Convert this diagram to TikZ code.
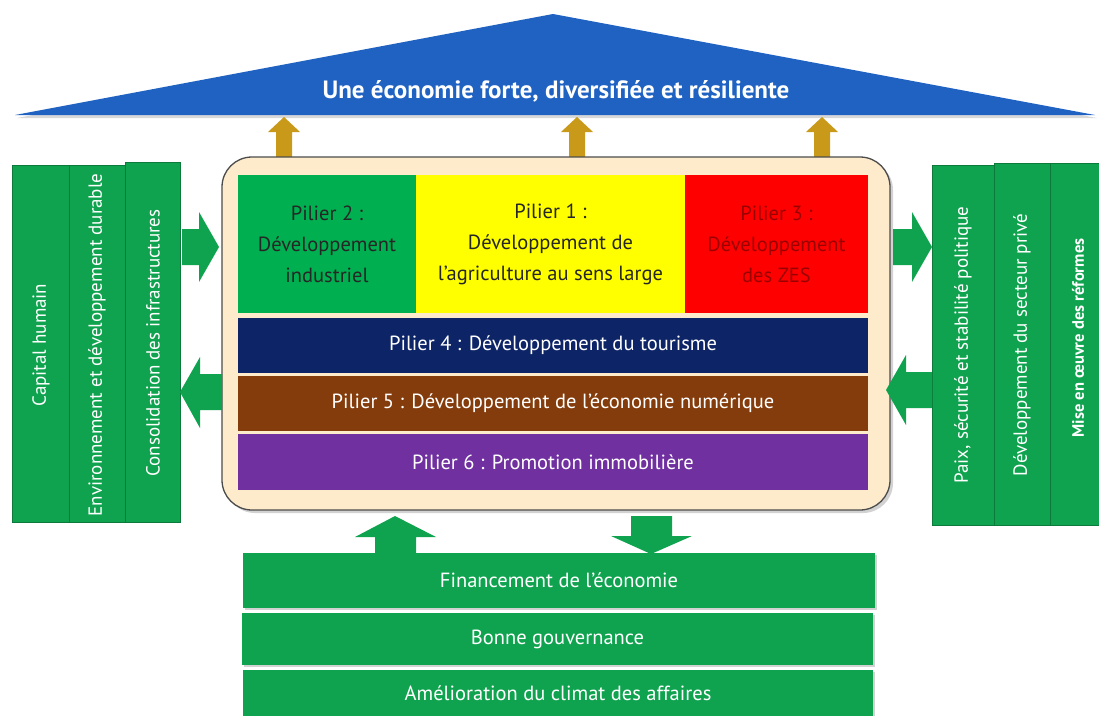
\documentclass[tikz,border=0pt]{standalone}
\usepackage{fontspec}
\setmainfont{PT Sans}
\usetikzlibrary{shadows}
\definecolor{grn}{HTML}{10A34F}
\definecolor{grnline}{HTML}{0B7A3A}
\definecolor{pgreen}{HTML}{00B050}
\definecolor{roofblue}{HTML}{1F62C2}
\definecolor{gold}{HTML}{C99A1A}
\definecolor{cream}{HTML}{FDEBCB}
\definecolor{navy}{HTML}{0D2466}
\definecolor{brownp}{HTML}{843C0C}
\definecolor{purp}{HTML}{7030A0}
\definecolor{darkred}{HTML}{9A0000}
\definecolor{yel}{HTML}{FFFF00}
\definecolor{redp}{HTML}{FF0000}
\tikzset{
  box/.style={inner sep=0pt, outer sep=0pt, align=center, anchor=north west},
  pil/.style={box, font=\fontsize{20.5}{31}\selectfont},
  band/.style={box, text=white, font=\fontsize{20.5}{24}\selectfont},
  colbox/.style={fill=grn, draw=grnline, line width=0.8pt},
  coltext/.style={text=white, rotate=90, font=\fontsize{19}{22}\selectfont},
  barbox/.style={box, fill=grn, text=white, font=\fontsize{20.5}{24}\selectfont,
    drop shadow={shadow xshift=2pt, shadow yshift=-2pt, opacity=.35}},
  garrow/.style={fill=grn},
  goldarrow/.style={fill=gold}
}
\begin{document}
\begin{tikzpicture}[x=1pt,y=-1pt]
\useasboundingbox (0,0) rectangle (1099,715);
\fill[white] (0,0) rectangle (1099,715);

% roof
\fill[roofblue, drop shadow={shadow xshift=2pt, shadow yshift=-3pt, opacity=.3}]
  (15,115) -- (553,14) -- (1095,115) -- cycle;
\node[text=white, font=\bfseries\fontsize{25}{28}\selectfont] (rooftxt) at (556,91)
  {Une économie forte, diversifiée et résiliente};

% gold arrows
\foreach \x in {284,577,822}{
  \fill[goldarrow] (\x-8,157) -- (\x-8,132) -- (\x-16,132) -- (\x,117)
    -- (\x+16,132) -- (\x+8,132) -- (\x+8,157) -- cycle;
}

% main frame
\draw[rounded corners=30pt, fill=cream, draw=gray!60!black, line width=1.3pt,
  drop shadow={shadow xshift=3pt, shadow yshift=-3pt, opacity=.35}]
  (222,157) rectangle (890,510);

% pillars
\node[pil, fill=pgreen, text=black!85, minimum width=178pt, minimum height=138pt] (p2) at (238,175)
  {Pilier 2 :\\Développement\\industriel};
\node[pil, fill=yel, text=black!85, minimum width=269pt, minimum height=138pt] (p1) at (416,175)
  {Pilier 1 :\\Développement de\\l'agriculture au sens large};
\node[pil, fill=redp, text=darkred, minimum width=183pt, minimum height=138pt] (p3) at (685,175)
  {Pilier 3 :\\Développement\\des ZES};
\node[band, fill=navy, minimum width=630pt, minimum height=55pt] (p4) at (238,318)
  {Pilier 4 : Développement du tourisme};
\node[band, fill=brownp, minimum width=630pt, minimum height=55pt] (p5) at (238,376)
  {Pilier 5 : Développement de l'économie numérique};
\node[band, fill=purp, minimum width=630pt, minimum height=56pt] (p6) at (238,434)
  {Pilier 6 : Promotion immobilière};

% left columns
\draw[colbox] (12,165) rectangle (69,522);
\draw[colbox] (69,165) rectangle (125,522);
\draw[colbox] (125,162) rectangle (180,522);
\node[coltext] (c1) at (41,345) {Capital humain};
\node[coltext] (c2) at (97,345) {Environnement et développement durable};
\node[coltext] (c3) at (153,343) {Consolidation des infrastructures};

% right columns
\draw[colbox] (932,165) rectangle (994,525);
\draw[colbox] (994,163) rectangle (1050,525);
\draw[colbox] (1050,163) rectangle (1099,525);
\node[coltext] (r1) at (963,345) {Paix, sécurité et stabilité politique};
\node[coltext] (r2) at (1022,345) {Développement du secteur privé};
\node[coltext, font=\bfseries\fontsize{16.5}{19}\selectfont] (r3) at (1078,338) {Mise en œuvre des réformes};

% side arrows (left)
\fill[garrow] (182,229) -- (199,229) -- (199,212) -- (219,247) -- (199,282) -- (199,265) -- (182,265) -- cycle;
\fill[garrow] (222,374) -- (200,374) -- (200,357) -- (180,392) -- (200,428) -- (200,410) -- (222,410) -- cycle;
% side arrows (right)
\fill[garrow] (893,229) -- (912,229) -- (912,212) -- (932,247) -- (912,282) -- (912,265) -- (893,265) -- cycle;
\fill[garrow] (932,372) -- (906,372) -- (906,355) -- (886,390) -- (906,425) -- (906,408) -- (932,408) -- cycle;
% bottom arrows
\fill[garrow] (375,553) -- (375,537) -- (355,537) -- (395,516) -- (436,537) -- (416,537) -- (416,553) -- cycle;
\fill[garrow] (631,516) -- (672,516) -- (672,536) -- (692,536) -- (651,554) -- (611,536) -- (631,536) -- cycle;

% bottom bars
\node[barbox, minimum width=632pt, minimum height=55pt] (b1) at (243,553) {Financement de l'économie};
\node[barbox, minimum width=631pt, minimum height=52pt] (b2) at (242,613) {Bonne gouvernance};
\node[barbox, minimum width=630pt, minimum height=46pt] (b3) at (243,670) {Amélioration du climat des affaires};
\end{tikzpicture}
\end{document}
